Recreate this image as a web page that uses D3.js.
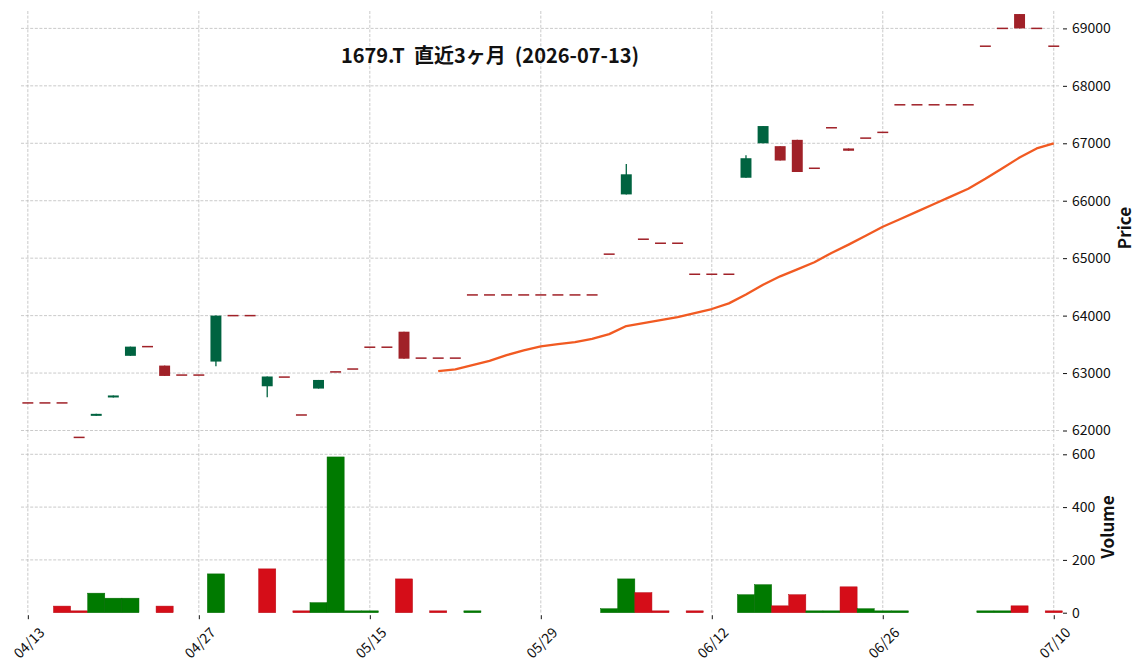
<!DOCTYPE html>
<html>
<head>
<meta charset="utf-8">
<script src="https://cdn.jsdelivr.net/npm/d3@7"></script>
<style>
  html, body { margin: 0; padding: 0; background: #fff; }
  svg { display: block; }
  text { font-family: "Noto Sans CJK JP", "Noto Sans", sans-serif; }
</style>
</head>
<body>
<svg id="chart" width="1144" height="670"></svg>
<script>
// ---------------- DATA ----------------
const dates = [
  "04/13","04/14","04/15","04/16","04/17","04/20","04/21","04/22","04/23","04/24",
  "04/27","04/28","04/30","05/01","05/07","05/08","05/11","05/12","05/13","05/14",
  "05/15","05/18","05/19","05/20","05/21","05/22","05/25","05/26","05/27","05/28",
  "05/29","06/01","06/02","06/03","06/04","06/05","06/08","06/09","06/10","06/11",
  "06/12","06/15","06/16","06/17","06/18","06/19","06/22","06/23","06/24","06/25",
  "06/26","06/29","06/30","07/01","07/02","07/03","07/06","07/07","07/08","07/09",
  "07/10"
];
const opens = [
  62480,62480,62480,61880,62255,62575,63300,63460,63130,62965,
  62965,63200,64000,64000,62770,62930,62270,62730,63020,63070,
  63450,63450,63720,63260,63260,63260,64360,64360,64360,64360,
  64360,64360,64360,64360,65070,66110,65330,65260,65260,64720,
  64720,64720,66400,67000,66950,67060,66565,67270,66910,67090,
  67190,67670,67670,67670,67670,67670,68690,69000,69250,69000,
  68690
];
const highs = [
  62480,62480,62480,61880,62290,62610,63460,63460,63130,62965,
  62965,64000,64000,64000,62940,62930,62270,62880,63020,63070,
  63450,63450,63720,63260,63260,63260,64360,64360,64360,64360,
  64360,64360,64360,64360,65070,66640,65330,65260,65260,64720,
  64720,64720,66790,67300,66950,67060,66565,67270,66910,67090,
  67190,67670,67670,67670,67670,67670,68690,69000,69250,69000,
  68690
];
const lows = [
  62480,62480,62480,61880,62255,62575,63300,63460,62950,62965,
  62965,63120,64000,64000,62580,62930,62270,62730,63020,63070,
  63450,63450,63250,63260,63260,63260,64360,64360,64360,64360,
  64360,64360,64360,64360,65070,66110,65330,65260,65260,64720,
  64720,64720,66400,67000,66700,66500,66565,67270,66870,67090,
  67190,67670,67670,67670,67670,67670,68690,69000,69000,69000,
  68690
];
const closes = [
  62480,62480,62480,61880,62290,62610,63460,63460,62950,62965,
  62965,64000,64000,64000,62940,62930,62270,62880,63020,63070,
  63450,63450,63250,63260,63260,63260,64360,64360,64360,64360,
  64360,64360,64360,64360,65070,66460,65330,65260,65260,64720,
  64720,64720,66740,67300,66700,66500,66565,67270,66870,67090,
  67190,67670,67670,67670,67670,67670,68690,69000,69000,69000,
  68690
];
const volumes = [
  0,0,25,7,74,55,55,0,25,0,
  0,147,0,0,166,0,7,38,590,7,
  7,0,128,0,7,0,7,0,0,0,
  0,0,0,0,15,128,76,7,0,7,
  0,0,68,106,26,68,7,7,98,15,
  7,7,0,0,0,0,7,7,26,0,
  7
];
// 25-day moving average, starting at index 24
const maStart = 24;
const ma25 = [
  63032,63063,63138,63213,63312,63395,63466,63502,63538,63594,
  63678,63818,63871,63922,63972,64043,64115,64213,64367,64538,
  64684,64806,64930,65091,65236,65389,65546,65678,65811,65943,
  66076,66208,66381,66567,66752,66910,66999
];
const xTickIdx = [0,10,20,30,40,50,60];
const priceTicks = [62000,63000,64000,65000,66000,67000,68000,69000];
const volTicks = [0,200,400,600];
const titleText = "1679.T  直近3ヶ月  (2026-07-13)";

// ---------------- STYLE ----------------
const C = {
  candleUp: "#006340", candleDown: "#a02128",
  volUp: "#007a00", volDown: "#d50d18",
  volUpEdge: "#006a00", volDownEdge: "#b80b15",
  ma: "#f15a22", grid: "#bdbdbd", text: "#111"
};
const L = { left: 21, right: 1060.6, pTop: 11, pBot: 440, vTop: 444, vBot: 612.7 };

const svg = d3.select("#chart");
svg.append("rect").attr("width",1144).attr("height",670).attr("fill","#fff");

const x = d3.scaleLinear().domain([-0.4, 60.4]).range([L.left, L.right]);
const yP = d3.scaleLinear().domain([62000, 69000]).range([430.5, 28.4]);
const yV = d3.scaleLinear().domain([0, 600]).range([L.vBot, 454.3]);
const step = x(1) - x(0);

// ---------------- GRID ----------------
const grid = svg.append("g").attr("stroke", C.grid).attr("stroke-width", 0.8)
  .attr("stroke-dasharray", "3,1.6").attr("fill","none");
priceTicks.forEach(t => grid.append("line")
  .attr("x1", L.left).attr("x2", L.right).attr("y1", yP(t)).attr("y2", yP(t)));
volTicks.slice(1).forEach(t => grid.append("line")
  .attr("x1", L.left).attr("x2", L.right).attr("y1", yV(t)).attr("y2", yV(t)));
xTickIdx.forEach(i => {
  grid.append("line").attr("x1", x(i)).attr("x2", x(i)).attr("y1", L.pTop).attr("y2", L.pBot);
  grid.append("line").attr("x1", x(i)).attr("x2", x(i)).attr("y1", L.vTop).attr("y2", L.vBot);
});

// ---------------- VOLUME ----------------
const idx = d3.range(dates.length);
const volUp = i => i > 0 && closes[i] > closes[i-1];
svg.append("g").selectAll("rect").data(idx.filter(i => volumes[i] > 0)).join("rect")
  .attr("x", i => x(i - 0.5))
  .attr("width", step)
  .attr("y", i => yV(volumes[i]))
  .attr("height", i => yV(0) - yV(volumes[i]))
  .attr("fill", i => volUp(i) ? C.volUp : C.volDown)
  .attr("stroke", i => volUp(i) ? C.volUpEdge : C.volDownEdge)
  .attr("stroke-width", 0.5);

// ---------------- CANDLES ----------------
const isUp = i => closes[i] > opens[i];
const bodyW = step * 0.64;
const cg = svg.append("g");
cg.selectAll("line").data(idx.filter(i => highs[i] !== lows[i])).join("line")
  .attr("x1", i => x(i)).attr("x2", i => x(i))
  .attr("y1", i => yP(highs[i])).attr("y2", i => yP(lows[i]))
  .attr("stroke", i => isUp(i) ? C.candleUp : C.candleDown)
  .attr("stroke-width", 1.3);
cg.selectAll("rect").data(idx).join("rect")
  .attr("x", i => x(i) - bodyW/2)
  .attr("width", bodyW)
  .attr("y", i => {
    const top = yP(Math.max(opens[i], closes[i]));
    const h = yP(Math.min(opens[i], closes[i])) - top;
    return h < 1.5 ? top - 0.75 + h/2 : top;
  })
  .attr("height", i => Math.max(1.5, yP(Math.min(opens[i], closes[i])) - yP(Math.max(opens[i], closes[i]))))
  .attr("fill", i => isUp(i) ? C.candleUp : C.candleDown);

// ---------------- MOVING AVERAGE ----------------
svg.append("path")
  .datum(ma25.map((v, k) => [maStart + k, v]))
  .attr("fill","none").attr("stroke", C.ma).attr("stroke-width", 2.3)
  .attr("stroke-linejoin","round")
  .attr("d", d3.line().x(d => x(d[0])).y(d => yP(d[1])));

// ---------------- AXES ----------------
function styleAxis(g) {
  g.select(".domain").remove();
  g.selectAll(".tick line").attr("stroke", C.text).attr("stroke-width", 1);
  g.selectAll(".tick text").attr("fill", C.text).style("font-size", "14px");
}
svg.append("g").attr("transform", `translate(${L.right + 2.4},0)`)
  .call(d3.axisRight(yP).tickValues(priceTicks).tickSize(4).tickPadding(5).tickFormat(d3.format("d")))
  .call(styleAxis);
svg.append("g").attr("transform", `translate(${L.right + 2.4},0)`)
  .call(d3.axisRight(yV).tickValues(volTicks).tickSize(4).tickPadding(5).tickFormat(d3.format("d")))
  .call(styleAxis);
const xa = svg.append("g").attr("transform", `translate(0,${L.vBot + 2.5})`)
  .call(d3.axisBottom(x).tickValues(xTickIdx).tickSize(4).tickFormat(i => dates[i]))
  .call(styleAxis);
xa.selectAll(".tick text")
  .attr("y", null).attr("dy", null)
  .attr("text-anchor", "middle")
  .attr("dominant-baseline", "central")
  .attr("transform", "translate(0,27) rotate(-45)");

// ---------------- LABELS ----------------
svg.append("text").attr("x", 490).attr("y", 63)
  .attr("text-anchor","middle").attr("fill", C.text)
  .style("font-size","20px").style("font-weight","bold").style("white-space","pre")
  .text(titleText);
svg.append("text").attr("transform", "translate(1131,228) rotate(-90)")
  .attr("text-anchor","middle").attr("fill", C.text)
  .style("font-size","17px").style("font-weight","bold").text("Price");
svg.append("text").attr("transform", "translate(1114,527) rotate(-90)")
  .attr("text-anchor","middle").attr("fill", C.text)
  .style("font-size","17px").style("font-weight","bold").text("Volume");
</script>
</body>
</html>
